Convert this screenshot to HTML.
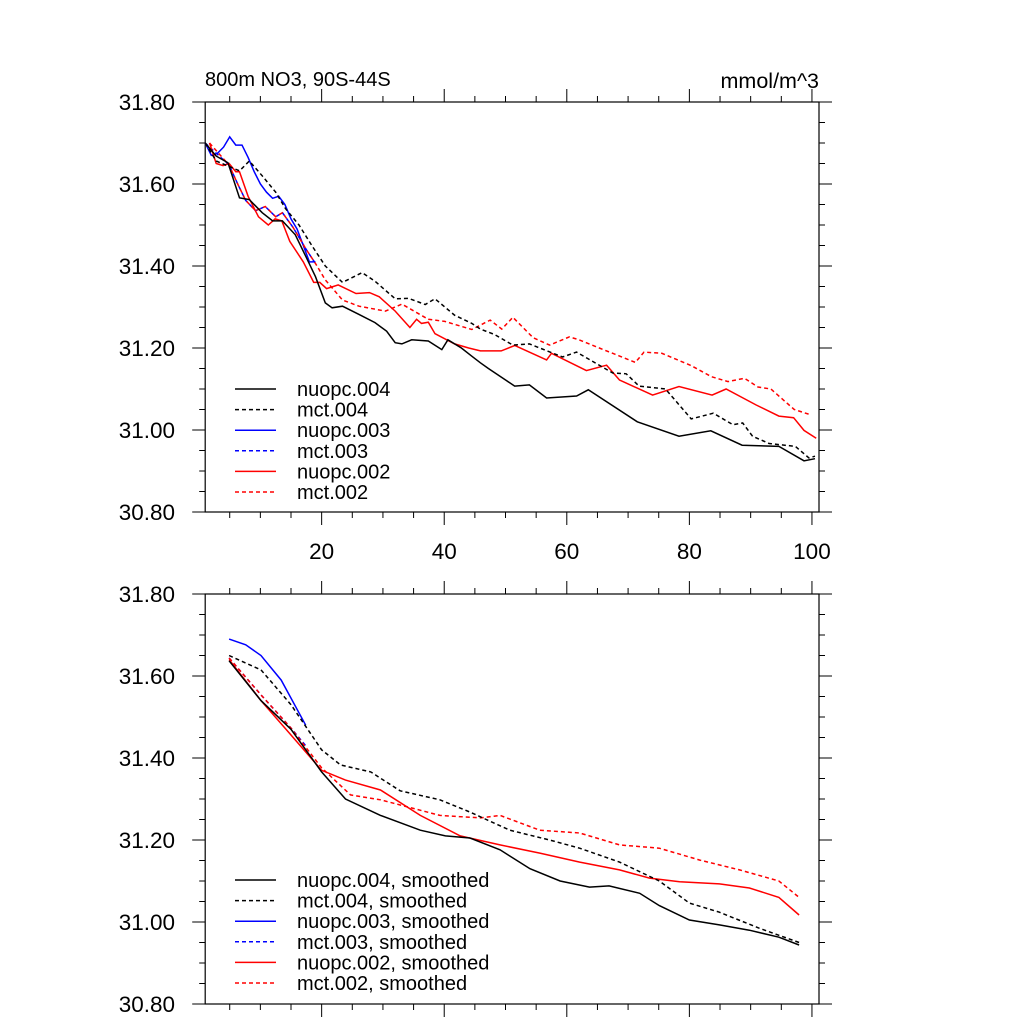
<!DOCTYPE html>
<html><head><meta charset="utf-8"><style>
body{margin:0;background:#fff;}
svg{display:block;font-family:"Liberation Sans",sans-serif;}
</style></head><body>
<svg id="chart" width="1024" height="1024" viewBox="0 0 1024 1024"></svg>
<script>
// ---- data: top panel (raw) ----
const nuopc004X=[1,2.8,4.7,6.6,8.2,10.3,12,13.6,15.7,17.4,19,20.6,21.7,23.4,26.1,28.7,30.6,32,33.1,34.7,37.4,39.6,40.6,42.8,44.5,45.9,47.2,51.5,53.9,56.7,61.6,63.5,71.5,78.3,83.5,88.6,94.6,98.7,100.5];
const nuopc004Y=[31.70,31.668,31.652,31.566,31.562,31.53,31.51,31.51,31.476,31.424,31.374,31.31,31.298,31.302,31.282,31.262,31.241,31.213,31.21,31.22,31.217,31.196,31.22,31.20,31.18,31.164,31.15,31.107,31.11,31.078,31.083,31.098,31.02,30.985,30.998,30.963,30.96,30.925,30.93];
const mct004X=[1,2.8,6.6,8.2,10.3,12.5,14.1,16.3,18.4,20.6,23.4,26.6,28.7,32,34.2,36.9,38.5,41.7,44.5,45.9,48.2,51.2,53.9,59.3,61.6,67.5,69.7,71.8,76.1,80.3,83.9,87.1,88.7,90.3,93,97.3,99.5,100.5];
const mct004Y=[31.70,31.656,31.632,31.656,31.62,31.58,31.54,31.50,31.45,31.40,31.36,31.384,31.363,31.32,31.321,31.306,31.32,31.28,31.26,31.246,31.233,31.207,31.21,31.178,31.19,31.139,31.137,31.107,31.10,31.027,31.041,31.013,31.017,30.985,30.967,30.96,30.932,30.936];
const nuopc003X=[1,2,3,4,5,6,7,8,9,10,11,12,13,14,15,16,17,18,19];
const nuopc003Y=[31.70,31.67,31.675,31.69,31.715,31.695,31.695,31.665,31.63,31.60,31.58,31.565,31.57,31.55,31.515,31.49,31.45,31.41,31.41];
const mct003X=[1,4.9,6.3,7.6,9.2,10.8,12.5,13.6,15.3,17.5,19];
const mct003Y=[31.70,31.646,31.60,31.56,31.535,31.545,31.52,31.53,31.495,31.44,31.406];
const nuopc002X=[1.7,2.8,3.9,4.9,6,6.6,8,9.7,11.3,12.4,13.5,14.8,17,18.7,19.7,20.8,21.9,22.7,25.6,27.8,29.4,32,34.4,35.5,36.3,37.4,38.5,41.7,44,45.9,49.3,51.5,56.7,57.5,63.2,66.5,68.6,74,78.3,83.7,86,90.9,94.6,97,98.7,100.7];
const nuopc002Y=[31.70,31.65,31.645,31.65,31.63,31.63,31.57,31.52,31.50,31.515,31.51,31.46,31.41,31.36,31.36,31.345,31.35,31.354,31.333,31.335,31.325,31.29,31.25,31.27,31.26,31.263,31.235,31.21,31.20,31.193,31.193,31.206,31.171,31.187,31.145,31.158,31.122,31.085,31.106,31.085,31.10,31.061,31.034,31.03,30.999,30.98];
const mct002X=[1.7,4.9,6.3,7.6,9.2,10.8,12.5,13.6,15.3,17.5,19,20.6,23.4,26.1,30.4,33.1,37.4,40.1,44.5,47.5,49.4,51.2,54.5,57.2,60.4,62,65.3,71.2,72.6,75.5,80.3,83.6,86.3,89,91.2,93.3,97.1,99.8];
const mct002Y=[31.70,31.646,31.60,31.56,31.535,31.545,31.52,31.53,31.495,31.44,31.406,31.366,31.317,31.302,31.29,31.307,31.27,31.265,31.245,31.268,31.246,31.275,31.225,31.207,31.227,31.22,31.20,31.165,31.19,31.187,31.157,31.13,31.118,31.126,31.105,31.10,31.05,31.037];
// ---- data: bottom panel (smoothed) ----
const sNuopc004X=[4.9,10.1,15,20,23.9,29.6,36.1,40.2,44.2,49.1,54,58.9,63.7,66.9,71.9,75.1,80,84.9,89.8,94.6,97.9];
const sNuopc004Y=[31.637,31.54,31.47,31.366,31.30,31.26,31.224,31.21,31.205,31.176,31.13,31.10,31.085,31.088,31.07,31.04,31.005,30.993,30.98,30.963,30.944];
const sMct004X=[4.9,10.1,15,20,23.1,28,32.8,39.3,44.2,50.7,57.2,62.1,68.6,75.1,80,84.9,91.4,97.9];
const sMct004Y=[31.65,31.615,31.53,31.42,31.383,31.366,31.32,31.298,31.268,31.224,31.20,31.18,31.146,31.10,31.046,31.024,30.985,30.95];
const sNuopc003X=[4.9,7.6,10.1,13.4,17.4];
const sNuopc003Y=[31.69,31.676,31.65,31.59,31.48];
const sMct003X=[4.9,10.1,15,17.4];
const sMct003Y=[31.644,31.554,31.473,31.43];
const sNuopc002X=[4.9,10.1,15,20,23.9,29.6,36.1,42.6,49.1,55.6,62.1,68.6,73.5,78.4,84.9,89.8,94.6,97.9];
const sNuopc002Y=[31.64,31.54,31.456,31.37,31.346,31.322,31.26,31.21,31.188,31.168,31.146,31.127,31.107,31.098,31.093,31.083,31.06,31.017];
const sMct002X=[4.9,10.1,15,20,24.7,29.6,39.3,45.9,49.1,55.6,62.1,68.6,75.1,81.7,88.2,94.6,97.9];
const sMct002Y=[31.644,31.554,31.473,31.376,31.31,31.298,31.26,31.254,31.26,31.224,31.217,31.188,31.18,31.151,31.127,31.10,31.06];
const yTicks=[30.80,31.00,31.20,31.40,31.60,31.80];
const xTicks=[20,40,60,80,100];
const legendTop=["nuopc.004","mct.004","nuopc.003","mct.003","nuopc.002","mct.002"];
const legendBottom=["nuopc.004, smoothed","mct.004, smoothed","nuopc.003, smoothed","mct.003, smoothed","nuopc.002, smoothed","mct.002, smoothed"];

const NS="http://www.w3.org/2000/svg";
const svg=document.getElementById('chart');
const L=205.2,R=819,XMIN=1,XMAX=101.15;
function sx(v){return L+(v-XMIN)/(XMAX-XMIN)*(R-L);}
function mk(tag,attrs,parent){const e=document.createElementNS(NS,tag);for(const k in attrs)e.setAttribute(k,attrs[k]);(parent||svg).appendChild(e);return e;}
const styles=[{c:"#000",d:""},{c:"#000",d:"4,3"},{c:"#0000ff",d:""},{c:"#0000ff",d:"4,3"},{c:"#ff0000",d:""},{c:"#ff0000",d:"4,3"}];

function panel(top,name,series,legend,legY){
  const bot=top+410;
  const sy=v=>top+(31.80-v)/1.0*410;
  const g=mk('g',{});
  
  
  const box=mk('rect',{x:L,y:top,width:R-L,height:410,fill:"none",stroke:"#000","stroke-width":1.2},g);
  
  
  for(let v=30.80;v<=31.801;v+=0.05){
    const major=Math.abs(Math.round(v*100)%20)<1;
    const len=major?13:6;
    const y=sy(v);
    mk('line',{x1:L-len,x2:L,y1:y,y2:y,stroke:"#000","stroke-width":1},g);
    mk('line',{x1:R,x2:R+len,y1:y,y2:y,stroke:"#000","stroke-width":1},g);
  }
  yTicks.forEach(v=>{
    const t=mk('text',{x:175,y:sy(v)+8,"font-size":22.5,"text-anchor":"end"},g);
    t.textContent=v.toFixed(2);
    
    
  });
  for(let v=5;v<=100;v+=5){
    const major=v%20===0;const len=major?13:6;const x=sx(v);
    mk('line',{x1:x,x2:x,y1:bot,y2:bot+len,stroke:"#000","stroke-width":1},g);
    mk('line',{x1:x,x2:x,y1:top-len,y2:top,stroke:"#000","stroke-width":1},g);
  }
  if(top<300){
    xTicks.forEach(v=>{
      const t=mk('text',{x:sx(v),y:559,"font-size":22.5,"text-anchor":"middle"},g);
      t.textContent=v;
      
      
    });
  }
  const order=[3,2,5,4,1,0];
  order.forEach(i=>{
    const [xs,ys]=series[i];
    const p=mk('polyline',{points:xs.map((x,k)=>sx(x).toFixed(1)+","+sy(ys[k]).toFixed(1)).join(" "),fill:"none",stroke:styles[i].c,"stroke-width":1.5,"stroke-dasharray":styles[i].d},g);
    
    
  });
  legend.forEach((lab,i)=>{
    const y=legY+i*20.6;
    const ln=mk('line',{x1:235,x2:276,y1:y,y2:y,stroke:styles[i].c,"stroke-width":1.5,"stroke-dasharray":styles[i].d},g);
    
    
    const t=mk('text',{x:297,y:y+7,"font-size":20},g);
    t.textContent=lab;
    
    
  });
}
panel(102,'top-panel',[[nuopc004X,nuopc004Y],[mct004X,mct004Y],[nuopc003X,nuopc003Y],[mct003X,mct003Y],[nuopc002X,nuopc002Y],[mct002X,mct002Y]],legendTop,389);
panel(594,'bottom-panel',[[sNuopc004X,sNuopc004Y],[sMct004X,sMct004Y],[sNuopc003X,sNuopc003Y],[sMct003X,sMct003Y],[sNuopc002X,sNuopc002Y],[sMct002X,sMct002Y]],legendBottom,880);
const t1=mk('text',{x:205,y:86,"font-size":20});
t1.textContent="800m NO3, 90S-44S";


const t2=mk('text',{x:819,y:88,"font-size":21.5,"text-anchor":"end"});
t2.textContent="mmol/m^3";


</script>
</body></html>
